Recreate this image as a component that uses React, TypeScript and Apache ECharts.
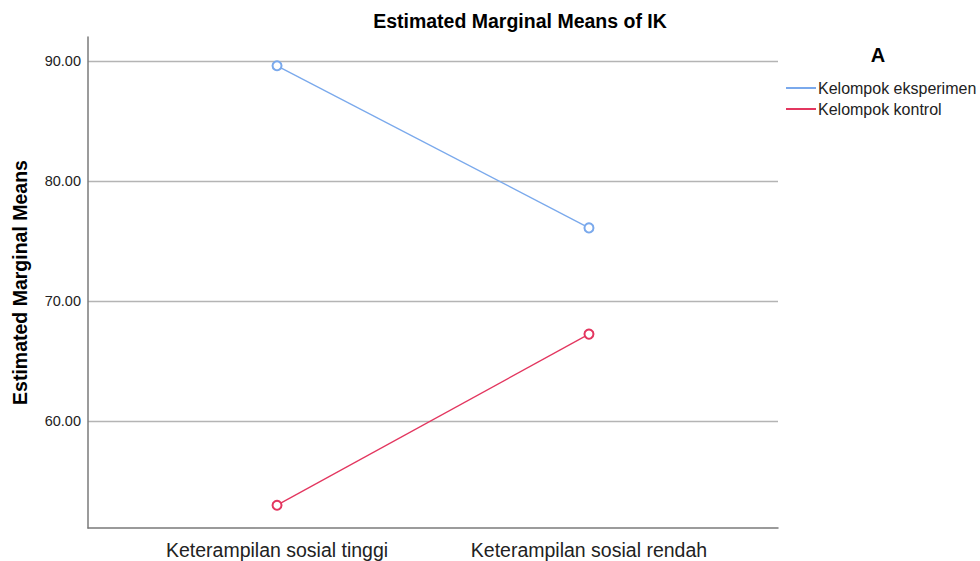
import React, { useEffect, useRef } from "react";
import * as echarts from "echarts";

const categories = ["Keterampilan sosial tinggi", "Keterampilan sosial rendah"];
const seriesNames = ["Kelompok eksperimen", "Kelompok kontrol"];
const eksperimen = [89.6, 76.1];
const kontrol = [53.0, 67.25];
const yTicks = [60, 70, 80, 90];
const colors = ["#7aa9ec", "#e3365f"];

export default function App() {
  const ref = useRef<HTMLDivElement>(null);
  useEffect(() => {
    if (!ref.current) return;
    const chart = echarts.init(ref.current, undefined, { renderer: "svg" });
    const font = "'Liberation Sans', Arial, sans-serif";
    const mk = (name: string, vals: number[], color: string) => ({
      name,
      type: "line",
      data: vals.map((v, i) => [i, v]),
      symbol: "emptyCircle",
      symbolSize: 9,
      lineStyle: { color, width: 1.3 },
      itemStyle: { color, borderWidth: 1.3 },
      emphasis: { disabled: true },
    });
    chart.setOption({
      animation: false,
      textStyle: { fontFamily: font },
      title: {
        text: "Estimated Marginal Means of IK",
        left: 515,
        textAlign: "center",
        top: 6,
        textStyle: { fontSize: 19.5, fontWeight: "bold", color: "#000", fontFamily: font },
      },
      grid: { left: 88, right: 202, top: 37, bottom: 33, outerBoundsMode: "none", containLabel: false },
      legend: {
        orient: "vertical",
        left: 781,
        top: 75,
        itemWidth: 30,
        itemHeight: 2,
        itemGap: 5,
        icon: "rect",
        textStyle: { fontSize: 16, color: "#222", fontFamily: font, padding: [0, 0, 0, -3] },
        data: seriesNames,
      },
      graphic: [
        {
          type: "text",
          x: 878,
          y: 55,
          style: {
            text: "A",
            fontSize: 20,
            fontWeight: "bold",
            fill: "#000",
            fontFamily: font,
            align: "center",
            verticalAlign: "middle",
          },
        },
      ],
      xAxis: {
        type: "value",
        min: -0.606,
        max: 1.606,
        axisLine: { show: true, onZero: false, lineStyle: { color: "#7a7a7a", width: 1.5 } },
        axisTick: { show: false },
        splitLine: { show: false },
        axisLabel: {
          customValues: [0, 1],
          formatter: (v: number) => categories[Math.round(v)],
          fontSize: 19.5,
          color: "#222",
          margin: 12,
          fontFamily: font,
        },
      },
      yAxis: {
        type: "value",
        min: 51.1,
        max: 92,
        name: "Estimated Marginal Means",
        nameLocation: "middle",
        nameGap: 58,
        nameTextStyle: { fontSize: 19.5, fontWeight: "bold", color: "#000", fontFamily: font },
        axisLine: { show: true, onZero: false, lineStyle: { color: "#7a7a7a", width: 1.5 } },
        axisTick: { show: false, customValues: yTicks },
        axisLabel: {
          customValues: yTicks,
          formatter: (v: number) => v.toFixed(2),
          fontSize: 14.5,
          color: "#222",
          margin: 7,
          fontFamily: font,
        },
        splitLine: { show: true, lineStyle: { color: "#b4b4b4", width: 1.3 } },
      },
      series: [mk(seriesNames[0], eksperimen, colors[0]), mk(seriesNames[1], kontrol, colors[1])],
    });
    return () => chart.dispose();
  }, []);
  return (
    <div
      ref={ref}
      style={{ position: "absolute", left: 0, top: 0, width: 980, height: 561 }}
    />
  );
}
